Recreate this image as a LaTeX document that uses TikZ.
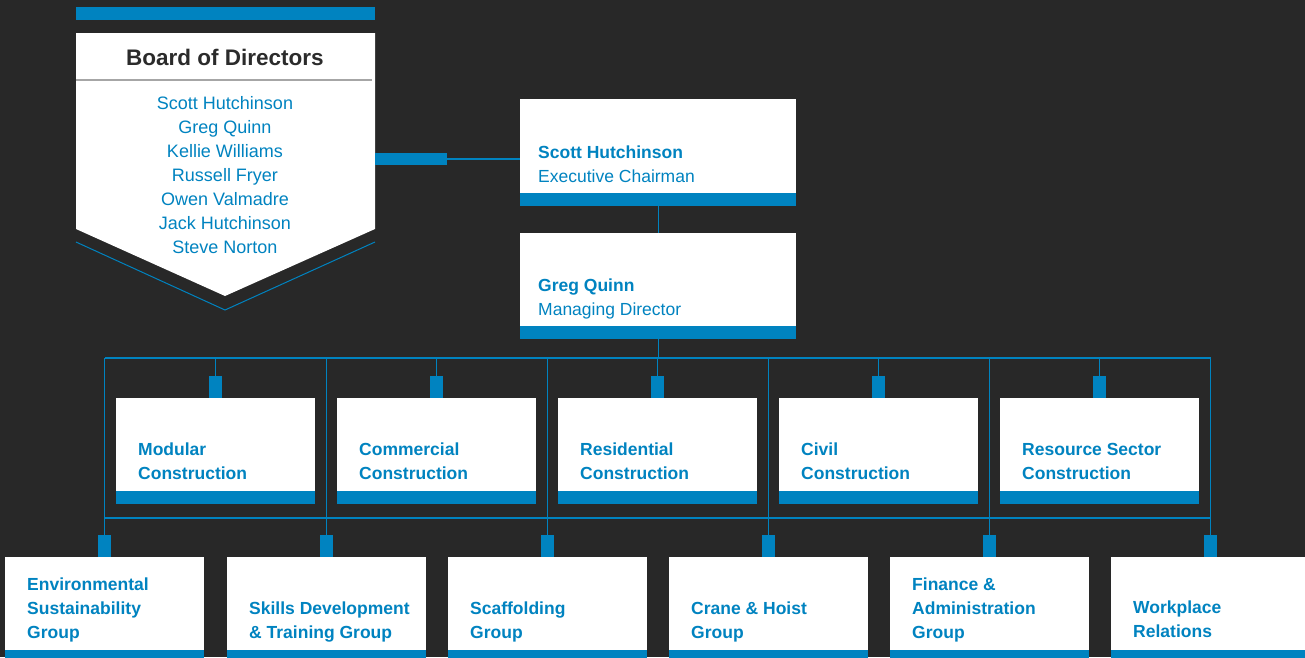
\documentclass[tikz,border=0pt]{standalone}
\usepackage{fontspec}
\setmainfont{Liberation Sans}
\definecolor{brand}{RGB}{0,131,192}
\definecolor{backdrop}{RGB}{40,40,40}
\definecolor{ink}{RGB}{43,43,43}

\begin{document}
\begin{tikzpicture}[x=1pt,y=-1pt,
  wire/.style={draw=brand,line width=1.2pt},
  unitbox/.style={fill=white,minimum width=199pt,minimum height=106pt,inner sep=0pt,
    path picture={\fill[brand] (path picture bounding box.south west) rectangle ([yshift=13pt]path picture bounding box.south east);}},
  tabbox/.style={fill=brand,minimum width=13pt,minimum height=22pt,inner sep=0pt},
  unittext/.style={text=brand,font=\bfseries\fontsize{17.5}{24}\selectfont,align=left,anchor=west,inner sep=0pt}]
\clip (0,0) rectangle (1305,657);
\fill[backdrop] (0,0) rectangle (1305,657);

% board of directors
\fill[brand] (76,7) rectangle (375,20);
\fill[white] (76,33) -- (375,33) -- (375,229) -- (225,296) -- (76,229) -- cycle;
\draw[gray!70,line width=1.2pt] (76,80) -- (372,80);
\draw[brand,line width=1pt] (76,242) -- (225,310) -- (375,242);
\node[text=ink,font=\bfseries\fontsize{22.5}{27}\selectfont] (board) at (225,57) {Board of Directors};
\node[text=brand,align=center,inner sep=0pt,font=\fontsize{18}{24}\selectfont] (members) at (225,175)
  {Scott Hutchinson\\Greg Quinn\\Kellie Williams\\Russell Fryer\\Owen Valmadre\\Jack Hutchinson\\Steve Norton};
\node[fill=brand,minimum width=72pt,minimum height=12pt,inner sep=0pt,anchor=west] (link) at (375,159) {};

% executives
\node[unitbox,minimum width=276pt,minimum height=107pt,anchor=north west] (chair) at (520,99) {};
\node[unittext,font=\fontsize{17.5}{24}\selectfont] (chair-t) at (538,164) {\textbf{Scott Hutchinson}\\Executive Chairman};
\node[unitbox,minimum width=276pt,anchor=north west] (md) at (520,233) {};
\node[unittext,font=\fontsize{17.5}{24}\selectfont] (md-t) at (538,299) {\textbf{Greg Quinn}\\Managing Director};
\draw[wire] (link.east) -- (chair.west |- link.east);
\draw[wire] (chair.south) -- (md.north);

% buses
\coordinate (bus1w) at (105,358);
\coordinate (bus1e) at (1211,358);
\coordinate (bus2w) at (105,518);
\coordinate (bus2e) at (1211,518);
\draw[wire] (md.south) -- (md.south |- bus1w);
\draw[wire] (bus1w) -- (bus1e);
\draw[wire] (bus2w) -- (bus2e);

% construction divisions
\node[unitbox,anchor=north west] (modular) at (116,398) {};
\node[unitbox,anchor=north west] (commercial) at (337,398) {};
\node[unitbox,anchor=north west] (residential) at (558,398) {};
\node[unitbox,anchor=north west] (civil) at (779,398) {};
\node[unitbox,anchor=north west] (resource) at (1000,398) {};
\node[unittext] (modular-t) at (138,461) {Modular\\Construction};
\node[unittext] (commercial-t) at (359,461) {Commercial\\Construction};
\node[unittext] (residential-t) at (580,461) {Residential\\Construction};
\node[unittext] (civil-t) at (801,461) {Civil\\Construction};
\node[unittext] (resource-t) at (1022,461) {Resource Sector\\Construction};
\node[tabbox,anchor=south] (modular-tab) at (modular.north) {};
\node[tabbox,anchor=south] (commercial-tab) at (commercial.north) {};
\node[tabbox,anchor=south] (residential-tab) at (residential.north) {};
\node[tabbox,anchor=south] (civil-tab) at (civil.north) {};
\node[tabbox,anchor=south] (resource-tab) at (resource.north) {};
\draw[wire] (modular-tab.north) -- (modular-tab.north |- bus1w);
\draw[wire] (commercial-tab.north) -- (commercial-tab.north |- bus1w);
\draw[wire] (residential-tab.north) -- (residential-tab.north |- bus1w);
\draw[wire] (civil-tab.north) -- (civil-tab.north |- bus1w);
\draw[wire] (resource-tab.north) -- (resource-tab.north |- bus1w);

% support groups
\node[unitbox,anchor=north west] (env) at (5,557) {};
\node[unitbox,anchor=north west] (skills) at (227,557) {};
\node[unitbox,anchor=north west] (scaffold) at (448,557) {};
\node[unitbox,anchor=north west] (crane) at (669,557) {};
\node[unitbox,anchor=north west] (finance) at (890,557) {};
\node[unitbox,anchor=north west] (workplace) at (1111,557) {};
\node[unittext] (env-t) at (27,609.5) {Environmental\\Sustainability\\Group};
\node[unittext] (skills-t) at (249,621.5) {Skills Development\\\& Training Group};
\node[unittext] (scaffold-t) at (470,621.5) {Scaffolding\\Group};
\node[unittext] (crane-t) at (691,621.5) {Crane \& Hoist\\Group};
\node[unittext] (finance-t) at (912,609.5) {Finance \&\\Administration\\Group};
\node[unittext] (workplace-t) at (1133,619.7) {Workplace\\Relations};
\node[tabbox,anchor=south] (env-tab) at (env.north) {};
\node[tabbox,anchor=south] (skills-tab) at (skills.north) {};
\node[tabbox,anchor=south] (scaffold-tab) at (scaffold.north) {};
\node[tabbox,anchor=south] (crane-tab) at (crane.north) {};
\node[tabbox,anchor=south] (finance-tab) at (finance.north) {};
\node[tabbox,anchor=south] (workplace-tab) at (workplace.north) {};
\draw[wire] (env-tab.north) -- (env-tab.north |- bus1w);
\draw[wire] (skills-tab.north) -- (skills-tab.north |- bus1w);
\draw[wire] (scaffold-tab.north) -- (scaffold-tab.north |- bus1w);
\draw[wire] (crane-tab.north) -- (crane-tab.north |- bus1w);
\draw[wire] (finance-tab.north) -- (finance-tab.north |- bus1w);
\draw[wire] (workplace-tab.north) -- (workplace-tab.north |- bus1w);
\end{tikzpicture}
\end{document}
